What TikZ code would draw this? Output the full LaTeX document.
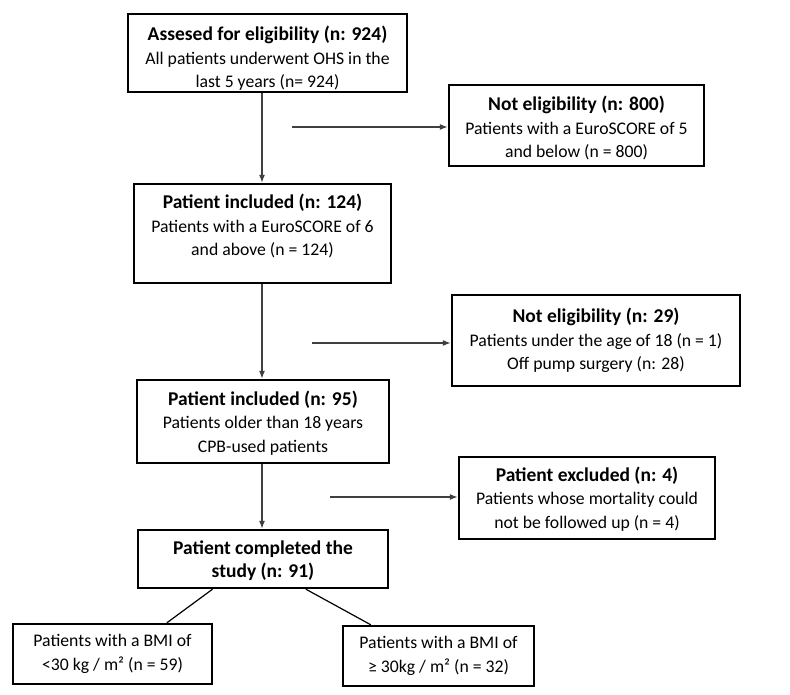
\documentclass[tikz,border=0pt]{standalone}
\usepackage{fontspec}
\setmainfont{Carlito}
\usetikzlibrary{arrows.meta,calc}

\newcommand{\boxtitle}[1]{{\fontsize{19.5}{23.5}\selectfont\textbf{#1}}}

\begin{document}
\begin{tikzpicture}[
    x=1pt, y=-1pt,
    >={Latex[length=8pt,width=6pt]}, % arrow tips of the flow
    font=\fontsize{17.7}{23.5}\selectfont,
    box/.style={draw, line width=2.4pt, align=center, inner sep=0pt}, % framed step
    flow/.style={->, line width=1.2pt, draw=black!75} % connector
]
    \useasboundingbox (0,0) rectangle (790,695);

    % Main column
    \node[box, minimum width=279, minimum height=78, text height=72.5pt] (assessed) at (267.5,53)
        {\boxtitle{Assesed for eligibility (n: 924)}\\All patients underwent OHS in the\\last 5 years (n= 924)};
    \node[box, minimum width=257, minimum height=99, text depth=17pt] (included1) at (262.5,233.5)
        {\boxtitle{Patient included (n: 124)}\\Patients with a EuroSCORE of 6\\and above (n = 124)};
    \node[box, minimum width=252, minimum height=83, text height=64pt] (included2) at (263,421.5)
        {\boxtitle{Patient included (n: 95)}\\Patients older than 18 years\\CPB-used patients};
    \node[box, minimum width=250, minimum height=58, text height=40.5pt] (completed) at (263,559)
        {\boxtitle{Patient completed the}\\\boxtitle{study (n: 91)}};

    % Side boxes
    \node[box, minimum width=255, minimum height=81, text height=66.5pt] (noteligA) at (576.5,125.5)
        {\boxtitle{Not eligibility (n: 800)}\\Patients with a EuroSCORE of 5\\and below (n = 800)};
    \node[box, minimum width=288, minimum height=91] (noteligB) at (596,340.5)
        {\boxtitle{Not eligibility (n: 29)}\\Patients under the age of 18 (n = 1)\\Off pump surgery (n: 28)};
    \node[box, minimum width=256, minimum height=82, text height=63pt] (excluded) at (587,498)
        {\boxtitle{Patient excluded (n: 4)}\\Patients whose mortality could\\not be followed up (n = 4)};

    % BMI groups
    \node[box, minimum width=199, minimum height=60] (bmilow) at (112.5,654)
        {Patients with a BMI of\\<30 kg / m² (n = 59)};
    \node[box, minimum width=191, minimum height=60] (bmihigh) at (438.5,656)
        {Patients with a BMI of\\≥ 30kg / m² (n = 32)};

    % Vertical arrows
    \coordinate (spine) at (262,0);
    \draw[flow] (assessed.south -| spine) -- (included1.north -| spine);
    \draw[flow] (included1.south -| spine) -- (included2.north -| spine);
    \draw[flow] (included2.south -| spine) -- (completed.north -| spine);

    % Side arrows
    \coordinate (outA) at (292,127);
    \coordinate (outB) at (312,343);
    \coordinate (outC) at (330,497);
    \draw[flow] (outA) -- (outA -| noteligA.west);
    \draw[flow] (outB) -- (outB -| noteligB.west);
    \draw[flow] (outC) -- (outC -| excluded.west);

    % Split into BMI groups
    \draw[line width=1.2pt] ($(completed.south west)!0.3!(completed.south east)$)
        -- ($(bmilow.north west)!0.77!(bmilow.north east)$);
    \draw[line width=1.2pt] ($(completed.south west)!0.67!(completed.south east)$)
        -- ($(bmihigh.north west)!0.15!(bmihigh.north east)$);

\end{tikzpicture}
\end{document}
